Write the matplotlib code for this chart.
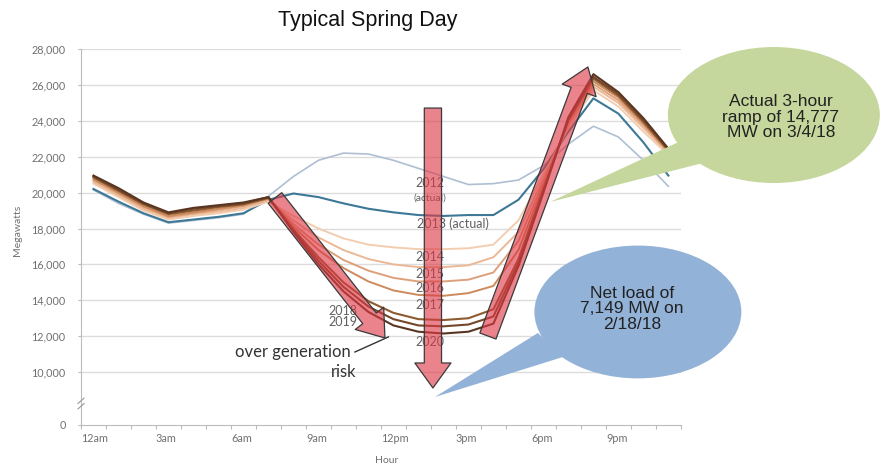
import numpy as np
import matplotlib
matplotlib.use("Agg")
import matplotlib.pyplot as plt
from matplotlib.patches import Ellipse, Polygon

# hourly net load (MW), values at the middle of each hour
hours = np.arange(24) + 0.5

load_2012 = [20150, 19400, 18800, 18300, 18450, 18600, 18800, 19800, 20900, 21800, 22200, 22150,
             21800, 21350, 20900, 20450, 20500, 20700, 21500, 22700, 23700, 23100, 21800, 20350]
load_2013 = [20200, 19500, 18850, 18350, 18500, 18650, 18850, 19600, 19950, 19750, 19400, 19100,
             18900, 18750, 18700, 18750, 18750, 19600, 21300, 23400, 25250, 24400, 22800, 20950]
load_2014 = [20500, 19750, 19000, 18500, 18700, 18850, 19050, 19500, 18700, 18000, 17450, 17100,
             16950, 16850, 16850, 16900, 17100, 18450, 21000, 23600, 25700, 24800, 23400, 22100]
load_2015 = [20600, 19850, 19100, 18600, 18800, 18950, 19150, 19600, 18450, 17500, 16800, 16300,
             16000, 15850, 15850, 15950, 16400, 17800, 20800, 23750, 25900, 25000, 23600, 22200]
load_2016 = [20700, 19950, 19200, 18650, 18850, 19050, 19250, 19650, 18250, 17100, 16250, 15650,
             15250, 15050, 15050, 15150, 15550, 17300, 20600, 23850, 26050, 25150, 23750, 22250]
load_2017 = [20750, 20000, 19250, 18700, 18900, 19100, 19300, 19700, 18100, 16800, 15800, 15050,
             14550, 14300, 14250, 14400, 14800, 16800, 20400, 23950, 26200, 25300, 23850, 22300]
load_2018 = [20850, 20100, 19350, 18800, 19000, 19200, 19350, 19700, 17950, 16400, 15000, 13950,
             13300, 12950, 12900, 13000, 13500, 16300, 20200, 24050, 26350, 25400, 23950, 22350]
load_2019 = [20900, 20150, 19400, 18850, 19100, 19250, 19400, 19750, 17900, 16200, 14750, 13650,
             12950, 12600, 12550, 12650, 13100, 16100, 20100, 24100, 26450, 25500, 24050, 22400]
load_2020 = [20950, 20250, 19450, 18900, 19150, 19300, 19450, 19750, 17800, 16000, 14500, 13350,
             12600, 12250, 12150, 12250, 12700, 15900, 20000, 24200, 26600, 25600, 24150, 22450]

series = [
    (load_2012, '#aebfd4', 1.2),
    (load_2013, '#3d7896', 1.5),
    (load_2014, '#f3cdb0', 1.4),
    (load_2015, '#ebb895', 1.4),
    (load_2016, '#dea07a', 1.4),
    (load_2017, '#cd8a5c', 1.4),
    (load_2018, '#8e5a30', 1.5),
    (load_2019, '#74472a', 1.5),
    (load_2020, '#5a3622', 1.5),
]

x_labels = ['12am', '3am', '6am', '9am', '12pm', '3pm', '6pm', '9pm']
y_vals = [10000, 12000, 14000, 16000, 18000, 20000, 22000, 24000, 26000, 28000]
y_bottom = 7053   # broken axis: the bottom of the axis is labelled 0

fig = plt.figure(figsize=(8.94, 4.66), dpi=100)
ax = fig.add_axes([0.0906, 0.088, 0.671, 0.8068])

for vals, col, lw in series:
    ax.plot(hours, vals, color=col, lw=lw, zorder=3)

ax.set_xlim(0, 24)
ax.set_ylim(y_bottom, 28000)
for v in y_vals:
    ax.axhline(v, color='#dcdcdc', lw=1, zorder=1)

ax.set_xticks(range(25))
ax.set_xticklabels([x_labels[h // 3] if h % 3 == 0 and h < 24 else '' for h in range(25)],
                   ha='left', fontsize=7.8, color='#707070', family='Lato')
ax.set_yticks([y_bottom] + y_vals)
ax.set_yticklabels(['0'] + [f'{v:,}' for v in y_vals], fontsize=7.8, color='#707070', family='Lato')
ax.tick_params(axis='x', length=3, color='#bbbbbb', pad=3)
ax.tick_params(axis='y', length=2, color='#bbbbbb', pad=9)
for s in ['top', 'right']:
    ax.spines[s].set_visible(False)
for s in ['left', 'bottom']:
    ax.spines[s].set_color('#bbbbbb')

# axis break mark
for dy in (0, 300):
    ax.plot([-0.12, 0.12], [7950 + dy, 8250 + dy], color='#999999', lw=0.8, clip_on=False, zorder=6)

# curve labels
lab = dict(fontsize=9, color='#606060', family='Lato', ha='center', va='center', zorder=4)
ax.text(13.96, 20535, '2012', **lab)
ax.text(13.96, 19700, '(actual)', **dict(lab, fontsize=7.5))
ax.text(13.44, 18250, '2013 (actual)', **dict(lab, ha='left'))
ax.text(13.96, 16410, '2014', **lab)
ax.text(13.96, 15465, '2015', **lab)
ax.text(13.96, 14685, '2016', **lab)
ax.text(13.96, 13740, '2017', **lab)
ax.text(10.48, 13400, '2018', **lab)
ax.text(10.48, 12790, '2019', **lab)
ax.text(13.96, 11680, '2020', **lab)

# callout bubbles
green = '#c5d79c'
blue = '#93b2d7'
ax.add_patch(Polygon([(18.76, 19476), (24.08, 22930), (24.88, 21649)], closed=True,
                     fc=green, ec='none', zorder=4, clip_on=False))
ax.add_patch(Ellipse((27.72, 24323), 8.48, 7577, fc=green, ec='none', zorder=4, clip_on=False))
ax.text(28.0, 24200, 'Actual 3-hour\nramp of 14,777\nMW on 3/4/18', ha='center', va='center',
        fontsize=12.5, family='Liberation Sans', color='#222222', linespacing=1.05, zorder=5)

ax.add_patch(Polygon([(14.16, 8613), (18.28, 12178), (19.28, 10841)], closed=True,
                     fc=blue, ec='none', zorder=4, clip_on=False))
ax.add_patch(Ellipse((22.28, 13350), 8.28, 7400, fc=blue, ec='none', zorder=4, clip_on=False))
ax.text(22.04, 13520, 'Net load of\n7,149 MW on\n2/18/18', ha='center', va='center',
        fontsize=12.5, family='Liberation Sans', color='#222222', linespacing=1.05, zorder=5)

# big red arrows
arr = dict(arrowstyle='simple,head_width=1.3,head_length=0.9,tail_width=0.62',
           mutation_scale=20, fc=(0.87, 0.22, 0.27, 0.62), ec='#3a3a3a', lw=0.9,
           shrinkA=0, shrinkB=0)
ax.annotate('', xy=(12.16, 11900), xytext=(7.76, 19700), arrowprops=arr, zorder=6)
ax.annotate('', xy=(14.08, 9115), xytext=(14.08, 24710), arrowprops=arr, zorder=6)
ax.annotate('', xy=(20.28, 27000), xytext=(16.28, 12010), arrowprops=arr, zorder=6)

# over generation note
ax.text(8.48, 11120, 'over generation', ha='center', va='center', fontsize=12,
        family='Lato', color='#333333', zorder=5)
ax.text(10.52, 10000, 'risk', ha='center', va='center', fontsize=12,
        family='Lato', color='#333333', zorder=5)
ax.plot([10.96, 12.3], [11120, 11960], color='#333333', lw=1, zorder=5)

fig.text(0.4116, 0.957, 'Typical Spring Day', ha='center', va='center', fontsize=15.5,
         family='Liberation Sans', color='#111111')
fig.text(0.02, 0.506, 'Megawatts', rotation=90, ha='center', va='center', fontsize=7.5,
         family='Lato', color='#707070')
fig.text(0.432, 0.012, 'Hour', ha='center', va='center', fontsize=7.5, family='Lato', color='#707070')

fig.savefig('out.png', dpi=100)
